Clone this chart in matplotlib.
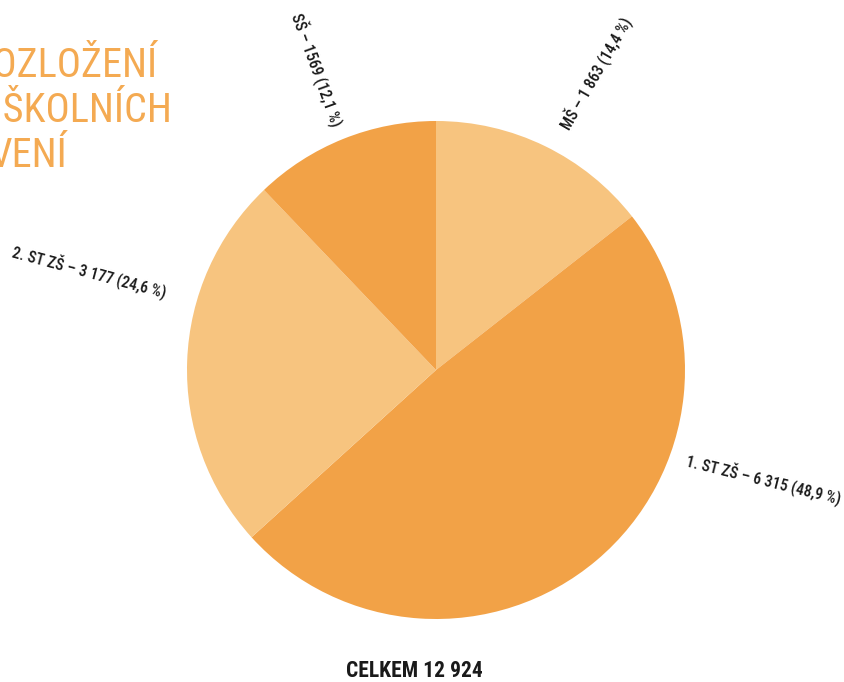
import matplotlib
matplotlib.use("Agg")
import numpy as np
import matplotlib.pyplot as plt

# data
categories = ["MŠ", "1. ST ZŠ", "2. ST ZŠ", "SŠ"]
counts = [1863, 6315, 3177, 1569]
count_labels = ["1 863", "6 315", "3 177", "1569"]
shares = ["14,4", "48,9", "24,6", "12,1"]
total_label = "CELKEM 12 924"
title_lines = ["ROZLOŽENÍ", "JEDNOTLIVÝCH ŠKOLNÍCH", "VENÍ"]

LIGHT = "#F7C47F"
DARK = "#F2A247"
TITLE_COL = "#F4AA52"
FONT = ["Roboto Condensed", "Liberation Sans Narrow", "Roboto", "DejaVu Sans"]

W, H = 845, 682
cx, cy, R = 436, 370, 249   # pie centre / radius in pixels

fig = plt.figure(figsize=(W / 100, H / 100), dpi=100)
ax = fig.add_axes([0, 0, 1, 1])
ax.pie(counts, startangle=90, counterclock=False,
       colors=[LIGHT, DARK, LIGHT, DARK])
ax.set_xlim(-cx / R, (W - cx) / R)
ax.set_ylim(-(H - cy) / R, cy / R)
ax.set_aspect("auto")
ax.axis("off")

# label placement: (angle, radius, rotation)
label_pos = [(62, 1.10, 60), (-20, 1.07, -14), (164, 1.13, -15), (112, 1.06, -70)]
for cat, cl, sh, (a, r, rot) in zip(categories, count_labels, shares, label_pos):
    x = r * np.cos(np.radians(a))
    y = r * np.sin(np.radians(a))
    ax.text(x, y, f"{cat} – {cl} ({sh} %)", rotation=rot, rotation_mode="anchor",
            ha="left" if x > 0 else "right", va="center",
            fontsize=11.3, family=FONT, fontstretch="condensed",
            fontweight="medium", color="#1a1a1a")

# title, partly cut off at the left edge as in the source page
for line, (xr, yb) in zip(title_lines, [(158, 77), (172, 122), (67, 167)]):
    fig.text(xr / W, 1 - yb / H, line, ha="right", va="baseline",
             fontsize=29, family=FONT, fontstretch="condensed",
             fontweight="normal", color=TITLE_COL)

fig.text(414 / W, 1 - 677 / H, total_label, ha="center", va="baseline",
         fontsize=15.5, fontweight="bold", family=FONT, fontstretch="condensed",
         color="#1a1a1a")

fig.savefig("out.png", dpi=100)
